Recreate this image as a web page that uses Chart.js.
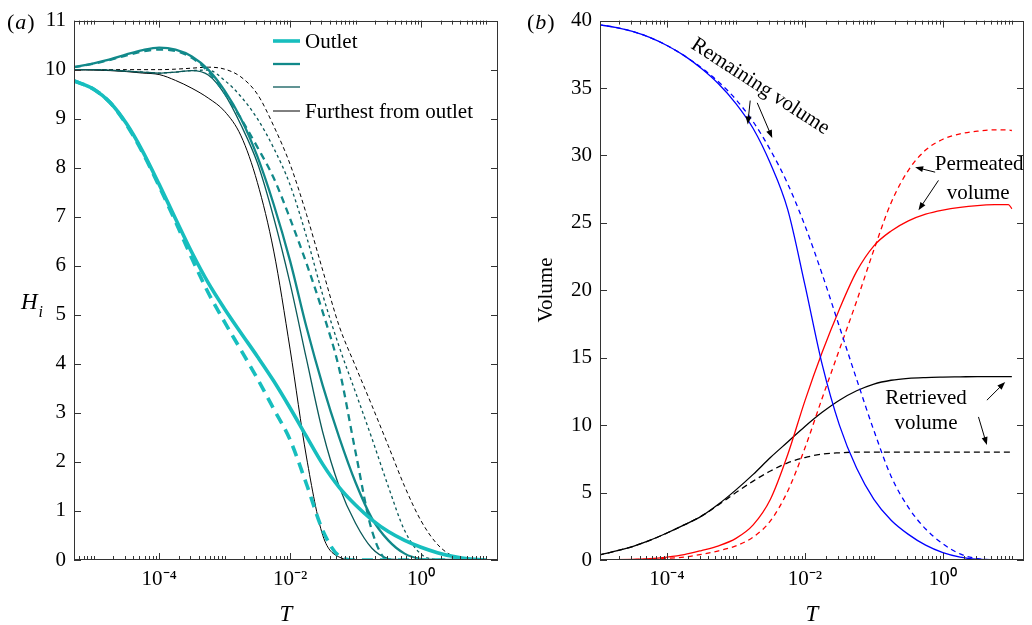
<!DOCTYPE html>
<html>
<head>
<meta charset="utf-8">
<title>H_i and volumes against T</title>
<script src="https://cdn.jsdelivr.net/npm/chart.js@4.4.1/dist/chart.umd.min.js"></script>
<style>
  html, body { margin: 0; padding: 0; background: #fff; }
  #wrap { position: relative; width: 1032px; height: 625px; overflow: hidden; }
  canvas { position: absolute; top: 0; }
  #chartA { left: 0; }
  #chartB { left: 516px; }
</style>
</head>
<body>
<div id="wrap">
  <canvas id="chartA" width="516" height="625"></canvas>
  <canvas id="chartB" width="516" height="625"></canvas>
</div>
<script>
// ---- panel (a): H_i against T, sampled at these log10(T) ----
const logTA = [-5.3, -5, -4.75, -4.5, -4.25, -4, -3.75, -3.5, -3.25, -3, -2.75, -2.5, -2.25,
  -2, -1.75, -1.5, -1.25, -1, -0.75, -0.5, -0.25, 0, 0.25, 0.5, 0.75, 1];

const outletSolid = [9.77, 9.6, 9.33, 8.9, 8.33, 7.66, 6.96, 6.27, 5.65, 5.12, 4.63, 4.15, 3.65,
  3.1, 2.52, 1.95, 1.48, 1.12, 0.82, 0.58, 0.4, 0.26, 0.15, 0.07, 0.02, 0];
const outletDash = [9.77, 9.6, 9.33, 8.88, 8.3, 7.62, 6.9, 6.15, 5.45, 4.85, 4.28, 3.7, 3.08,
  2.45, 1.55, 0.6, 0.08, 0, 0, 0, 0, 0, 0, 0, 0, 0];
const midSolid = [10.05, 10.13, 10.21, 10.31, 10.4, 10.45, 10.41, 10.27, 10.0, 9.57, 9.0, 8.23, 7.25,
  6.1, 4.75, 3.55, 2.5, 1.58, 0.85, 0.4, 0.13, 0.02, 0, 0, 0, 0];
const midDash = [10.05, 10.12, 10.2, 10.29, 10.37, 10.41, 10.38, 10.24, 9.96, 9.52, 9.0, 8.42, 7.79,
  6.96, 6.05, 5.05, 3.9, 2.2, 0.6, 0, 0, 0, 0, 0, 0, 0];
const innerSolid = [10.0, 10.0, 9.99, 9.97, 9.95, 9.93, 9.95, 9.98, 9.89, 9.5, 8.87, 8.1, 6.98,
  5.64, 4.1, 2.6, 1.5, 0.75, 0.24, 0.03, 0, 0, 0, 0, 0, 0];
const innerDash = [10.0, 10.0, 9.99, 9.97, 9.95, 9.93, 9.95, 9.98, 9.99, 9.78, 9.45, 9.0, 8.4,
  7.65, 6.6, 5.4, 4.35, 3.42, 2.48, 1.5, 0.6, 0.12, 0.01, 0, 0, 0];
const furthestSolid = [10.0, 9.99, 9.98, 9.96, 9.93, 9.9, 9.78, 9.62, 9.42, 9.15, 8.65, 7.7, 6.3,
  4.3, 2.1, 0.5, 0.06, 0, 0, 0, 0, 0, 0, 0, 0, 0];
const furthestDash = [10.0, 10.0, 10.0, 10.0, 10.0, 10.0, 10.01, 10.03, 10.05, 10.01, 9.85, 9.5, 8.85,
  8.07, 7.05, 5.9, 4.77, 3.95, 3.15, 2.33, 1.5, 0.8, 0.32, 0.07, 0, 0];

// ---- panel (b): volumes against T ----
const logTB = [-5, -4.75, -4.5, -4.25, -4, -3.75, -3.5, -3.25, -3, -2.75, -2.5, -2.25, -2,
  -1.75, -1.5, -1.25, -1, -0.75, -0.5, -0.25, 0, 0.25, 0.5, 0.75, 0.95, 1];

const remainSolid = [39.7, 39.5, 39.2, 38.75, 38.15, 37.4, 36.45, 35.3, 33.85, 32.0, 29.4, 26.0, 20.4,
  14.5, 10.0, 6.8, 4.5, 2.95, 1.9, 1.1, 0.55, 0.22, 0.06, 0.01, 0, 0];
const remainDash = [39.7, 39.5, 39.2, 38.75, 38.15, 37.4, 36.5, 35.45, 34.15, 32.5, 30.4, 27.9, 24.8,
  21.2, 17.3, 13.4, 9.6, 6.2, 3.9, 2.3, 1.2, 0.45, 0.1, 0.01, 0, 0];
const permSolid = [0, 0.02, 0.05, 0.1, 0.22, 0.4, 0.7, 1.05, 1.6, 2.6, 4.5, 7.8, 11.8,
  15.4, 18.6, 21.4, 23.3, 24.4, 25.15, 25.65, 25.95, 26.15, 26.28, 26.35, 26.36, 26.05];
const permDash = [0, 0.01, 0.03, 0.06, 0.12, 0.22, 0.42, 0.68, 1.05, 1.7, 2.9, 5.1, 8.3,
  12.0, 15.6, 19.2, 23.0, 26.5, 28.9, 30.4, 31.2, 31.6, 31.8, 31.9, 31.88, 31.85];
const retrSolid = [0.35, 0.65, 1.0, 1.45, 2.0, 2.6, 3.25, 4.15, 5.2, 6.35, 7.6, 8.75, 9.9,
  10.95, 11.85, 12.55, 13.05, 13.33, 13.47, 13.53, 13.56, 13.58, 13.6, 13.6, 13.6, 13.6];
const retrDash = [0.35, 0.65, 1.0, 1.45, 2.0, 2.6, 3.25, 4.1, 5.0, 5.85, 6.6, 7.2, 7.6,
  7.85, 7.95, 8.0, 8.0, 8.0, 8.0, 8.0, 8.0, 8.0, 8.0, 8.0, 8.0, 8.0];

// tick labels on the T axis
const xTickValues = [1e-4, 1e-2, 1];
const xTickLabels = ['10\u207B\u2074', '10\u207B\u00B2', '10\u2070'];

const SERIF = '"Liberation Serif", "Times New Roman", serif';
const CYAN = '#17bebe', TEAL = '#11898a', DKTEAL = '#0b5a5a', BLACK = '#000000';
const BLUE = '#0000ff', RED = '#ff0000';

Chart.defaults.font.family = SERIF;
Chart.defaults.color = '#000';

function series(logT, vals, color, width, dash) {
  return {
    data: logT.map((l, i) => ({ x: Math.pow(10, l), y: vals[i] })),
    borderColor: color,
    borderWidth: width,
    borderDash: dash || [],
    pointRadius: 0,
    cubicInterpolationMode: 'monotone',
    fill: false
  };
}

// box round the plot with inward ticks on all four sides
const frameTicks = {
  id: 'frameTicks',
  afterDatasetsDraw(chart) {
    const { ctx, chartArea: a, scales: { x, y } } = chart;
    ctx.save();
    ctx.strokeStyle = '#333';
    ctx.lineWidth = 1;
    ctx.beginPath();
    const e0 = Math.floor(Math.log10(x.min)), e1 = Math.ceil(Math.log10(x.max));
    for (let e = e0; e <= e1; e++) {
      for (let m = 1; m < 10; m++) {
        const v = m * Math.pow(10, e);
        if (v < x.min * 0.999 || v > x.max * 1.001) continue;
        const major = m === 1 && xTickValues.includes(v);
        const len = major ? 7 : 4;
        const px = Math.round(x.getPixelForValue(v)) + 0.5;
        ctx.moveTo(px, a.bottom); ctx.lineTo(px, a.bottom - len);
        ctx.moveTo(px, a.top); ctx.lineTo(px, a.top + len);
      }
    }
    y.ticks.forEach(t => {
      const py = Math.round(y.getPixelForValue(t.value)) + 0.5;
      ctx.moveTo(a.left, py); ctx.lineTo(a.left + 7, py);
      ctx.moveTo(a.right, py); ctx.lineTo(a.right - 7, py);
    });
    ctx.stroke();
    ctx.strokeRect(Math.round(a.left) + 0.5, Math.round(a.top) + 0.5,
      Math.round(a.width) - 1, Math.round(a.height) - 1);
    ctx.restore();
  }
};

function panelTag(ctx, letter, x, base) {
  ctx.font = '22px ' + SERIF;
  ctx.fillText('(', x, base);
  let w = ctx.measureText('(').width;
  ctx.font = 'italic 22px ' + SERIF;
  ctx.fillText(letter, x + w + 1, base);
  w += ctx.measureText(letter).width + 1;
  ctx.font = '22px ' + SERIF;
  ctx.fillText(')', x + w + 1, base);
}

function arrow(ctx, x1, y1, x2, y2) {
  const ang = Math.atan2(y2 - y1, x2 - x1), L = 8, W = 3;
  const c = Math.cos(ang), s = Math.sin(ang);
  ctx.beginPath();
  ctx.moveTo(x1, y1);
  ctx.lineTo(x2 - c * L * 0.7, y2 - s * L * 0.7);
  ctx.stroke();
  ctx.beginPath();
  ctx.moveTo(x2, y2);
  ctx.lineTo(x2 - L * c + W * s, y2 - L * s - W * c);
  ctx.lineTo(x2 - L * c - W * s, y2 - L * s + W * c);
  ctx.closePath();
  ctx.fill();
}

function xAxis(min, max) {
  return {
    type: 'logarithmic', min: min, max: max,
    afterBuildTicks: s => { s.ticks = xTickValues.map(v => ({ value: v })); },
    afterFit: s => { s.height = 65; },
    ticks: {
      callback: (v, i) => xTickLabels[i],
      font: { size: 21 }, color: '#000', padding: 7,
      maxRotation: 0, autoSkip: false
    },
    grid: { display: false, drawTicks: false },
    border: { display: false }
  };
}

function yAxis(max, step, width) {
  return {
    type: 'linear', min: 0, max: max,
    afterFit: s => { s.width = width; },
    ticks: { stepSize: step, font: { size: 21 }, color: '#000', padding: 8 },
    grid: { display: false, drawTicks: false },
    border: { display: false }
  };
}

const baseOptions = {
  responsive: false,
  animation: false,
  devicePixelRatio: 1,
  events: [],
  plugins: { legend: { display: false }, tooltip: { enabled: false } }
};

// legend of panel (a): row positions inside the canvas
const legendA = [
  { ds: 0, text: 'Outlet', y: 41 },
  { ds: 2, text: '', y: 64 },
  { ds: 4, text: '', y: 87 },
  { ds: 6, text: 'Furthest from outlet', y: 111 }
];

const textA = {
  id: 'textA',
  afterDraw(chart) {
    const ctx = chart.ctx, a = chart.chartArea;
    ctx.save();
    ctx.fillStyle = '#000';
    ctx.textBaseline = 'alphabetic';
    panelTag(ctx, 'a', 7, 29);
    ctx.font = 'italic 23px ' + SERIF;
    ctx.fillText('H', 21, 309);
    const w = ctx.measureText('H').width;
    ctx.font = 'italic 16px ' + SERIF;
    ctx.fillText('i', 21 + w + 1, 317);
    ctx.font = 'italic 23px ' + SERIF;
    ctx.textAlign = 'center';
    ctx.fillText('T', (a.left + a.right) / 2, 621);
    // legend
    ctx.textAlign = 'left';
    ctx.textBaseline = 'middle';
    ctx.font = '21px ' + SERIF;
    legendA.forEach(r => {
      const d = chart.data.datasets[r.ds];
      ctx.strokeStyle = d.borderColor;
      ctx.lineWidth = d.borderWidth;
      ctx.beginPath();
      ctx.moveTo(273, r.y); ctx.lineTo(300, r.y);
      ctx.stroke();
      if (r.text) ctx.fillText(r.text, 305, r.y + 1);
    });
    ctx.restore();
  }
};

const textB = {
  id: 'textB',
  afterDraw(chart) {
    const ctx = chart.ctx, a = chart.chartArea;
    const X = l => chart.scales.x.getPixelForValue(Math.pow(10, l));
    const Y = v => chart.scales.y.getPixelForValue(v);
    ctx.save();
    ctx.fillStyle = '#000';
    ctx.strokeStyle = '#000';
    ctx.lineWidth = 1;
    ctx.textBaseline = 'alphabetic';
    panelTag(ctx, 'b', 11, 29);
    ctx.font = 'italic 23px ' + SERIF;
    ctx.textAlign = 'center';
    ctx.fillText('T', (a.left + a.right) / 2, 621);
    ctx.save();
    ctx.translate(30, 290);
    ctx.rotate(-Math.PI / 2);
    ctx.font = '21px ' + SERIF;
    ctx.textBaseline = 'middle';
    ctx.fillText('Volume', 0, 0);
    ctx.restore();

    ctx.font = '21px ' + SERIF;
    ctx.textBaseline = 'middle';
    ctx.textAlign = 'center';
    ctx.save();
    ctx.translate(X(-2.648), Y(35.11));
    ctx.rotate(33 * Math.PI / 180);
    ctx.fillText('Remaining volume', 0, 0);
    ctx.restore();
    ctx.fillText('Permeated', X(0.526), Y(29.3));
    ctx.fillText('volume', X(0.512), Y(27.2));
    ctx.fillText('Retrieved', X(-0.245), Y(12.0));
    ctx.fillText('volume', X(-0.245), Y(10.1));

    arrow(ctx, X(-2.793), Y(34.07), X(-2.829), Y(32.3));
    arrow(ctx, X(-2.691), Y(33.9), X(-2.474), Y(31.3));
    arrow(ctx, X(-0.112), Y(28.76), X(-0.402), Y(29.13));
    arrow(ctx, X(-0.064), Y(28.15), X(-0.354), Y(25.93));
    arrow(ctx, X(0.638), Y(11.85), X(0.903), Y(13.2));
    arrow(ctx, X(0.516), Y(10.61), X(0.638), Y(8.52));
    ctx.restore();
  }
};

new Chart(document.getElementById('chartA'), {
  type: 'line',
  data: {
    datasets: [
      series(logTA, outletSolid, CYAN, 3.6),
      series(logTA, outletDash, CYAN, 3.6, [11, 7]),
      series(logTA, midSolid, TEAL, 2.3),
      series(logTA, midDash, TEAL, 2.3, [7, 5]),
      series(logTA, innerSolid, DKTEAL, 1.3),
      series(logTA, innerDash, DKTEAL, 1.3, [3, 3]),
      series(logTA, furthestSolid, BLACK, 1),
      series(logTA, furthestDash, BLACK, 1, [4, 3])
    ]
  },
  options: Object.assign({}, baseOptions, {
    layout: { padding: { top: 20, right: 18, left: 0, bottom: 0 } },
    scales: { x: xAxis(5e-6, 15), y: yAxis(11, 1, 74) }
  }),
  plugins: [frameTicks, textA]
});

new Chart(document.getElementById('chartB'), {
  type: 'line',
  data: {
    datasets: [
      series(logTB, remainSolid, BLUE, 1.3),
      series(logTB, remainDash, BLUE, 1.3, [5, 4]),
      series(logTB, permSolid, RED, 1.3),
      series(logTB, permDash, RED, 1.3, [5, 4]),
      series(logTB, retrSolid, BLACK, 1.3),
      series(logTB, retrDash, BLACK, 1.3, [6, 4])
    ]
  },
  options: Object.assign({}, baseOptions, {
    layout: { padding: { top: 20, right: 8, left: 0, bottom: 0 } },
    scales: { x: xAxis(1.07e-5, 15), y: yAxis(40, 5, 84) }
  }),
  plugins: [frameTicks, textB]
});
</script>
</body>
</html>
